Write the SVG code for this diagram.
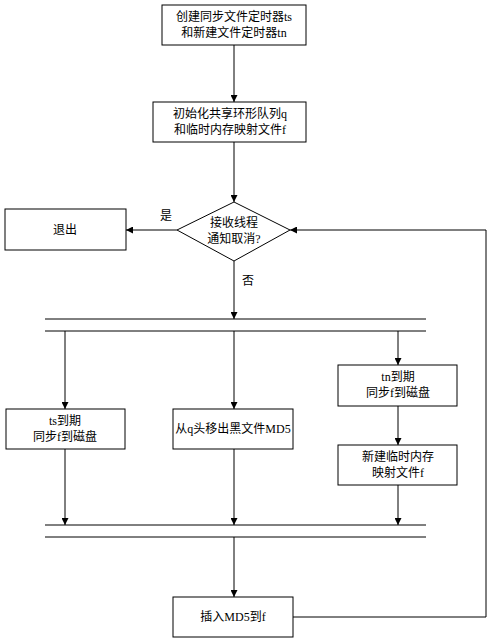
<svg xmlns="http://www.w3.org/2000/svg" width="492" height="644" viewBox="0 0 492 644">
<style>
.box{fill:#fff;stroke:#000;stroke-width:1}
.ln{fill:none;stroke:#000;stroke-width:1}
text{font-family:"Liberation Serif","Noto Sans CJK SC",serif;font-size:12px;fill:#000;text-anchor:middle}
</style>
<defs>
<marker id="ah" viewBox="0 0 10 10" refX="10" refY="5" markerWidth="7" markerHeight="7" orient="auto" markerUnits="userSpaceOnUse">
<path d="M0,0 L10,5 L0,10 z" fill="#000"/>
</marker>
</defs>
<rect width="492" height="644" fill="#fff"/>
<g id="connectors">
<line class="ln" x1="234" y1="45" x2="234" y2="102" marker-end="url(#ah)"/>
<line class="ln" x1="234" y1="142" x2="234" y2="202" marker-end="url(#ah)"/>
<line class="ln" x1="177" y1="230" x2="126" y2="230" marker-end="url(#ah)"/>
<line class="ln" x1="234" y1="261" x2="234" y2="319" marker-end="url(#ah)"/>
<line class="ln" x1="45" y1="319" x2="426" y2="319"/>
<line class="ln" x1="45" y1="331" x2="426" y2="331"/>
<line class="ln" x1="65" y1="331" x2="65" y2="409" marker-end="url(#ah)"/>
<line class="ln" x1="234" y1="331" x2="234" y2="409" marker-end="url(#ah)"/>
<line class="ln" x1="398" y1="331" x2="398" y2="365" marker-end="url(#ah)"/>
<line class="ln" x1="398" y1="406" x2="398" y2="445" marker-end="url(#ah)"/>
<line class="ln" x1="65" y1="449" x2="65" y2="525" marker-end="url(#ah)"/>
<line class="ln" x1="234" y1="449" x2="234" y2="525" marker-end="url(#ah)"/>
<line class="ln" x1="398" y1="485" x2="398" y2="525" marker-end="url(#ah)"/>
<line class="ln" x1="45" y1="525" x2="426" y2="525"/>
<line class="ln" x1="45" y1="537" x2="426" y2="537"/>
<line class="ln" x1="234" y1="537" x2="234" y2="597" marker-end="url(#ah)"/>
<polyline class="ln" points="293,617 486,617 486,230 290,230" marker-end="url(#ah)"/>
<text x="166" y="220">是</text>
<text x="248" y="285">否</text>
</g>
<g id="n1"><rect class="box" x="162" y="5" width="144" height="40"/><text x="234" y="21">创建同步文件定时器ts</text><text x="234" y="37">和新建文件定时器tn</text></g>
<g id="n2"><rect class="box" x="153" y="102" width="153" height="40"/><text x="230" y="118">初始化共享环形队列q</text><text x="230" y="134">和临时内存映射文件f</text></g>
<g id="n3"><polygon class="box" points="234,202 290,230 234,261 177,230"/><text x="234" y="227">接收线程</text><text x="234" y="243">通知取消?</text></g>
<g id="n4"><rect class="box" x="5" y="209" width="121" height="41"/><text x="65" y="234">退出</text></g>
<g id="n5"><rect class="box" x="6" y="409" width="119" height="40"/><text x="65" y="425">ts到期</text><text x="65" y="441">同步f到磁盘</text></g>
<g id="n6"><rect class="box" x="173" y="409" width="120" height="40"/><text x="233" y="433">从q头移出黑文件MD5</text></g>
<g id="n7"><rect class="box" x="338" y="365" width="119" height="41"/><text x="398" y="381">tn到期</text><text x="398" y="397">同步f到磁盘</text></g>
<g id="n8"><rect class="box" x="338" y="445" width="119" height="40"/><text x="398" y="461">新建临时内存</text><text x="398" y="477">映射文件f</text></g>
<g id="n9"><rect class="box" x="173" y="597" width="120" height="40"/><text x="233" y="621">插入MD5到f</text></g>
</svg>
